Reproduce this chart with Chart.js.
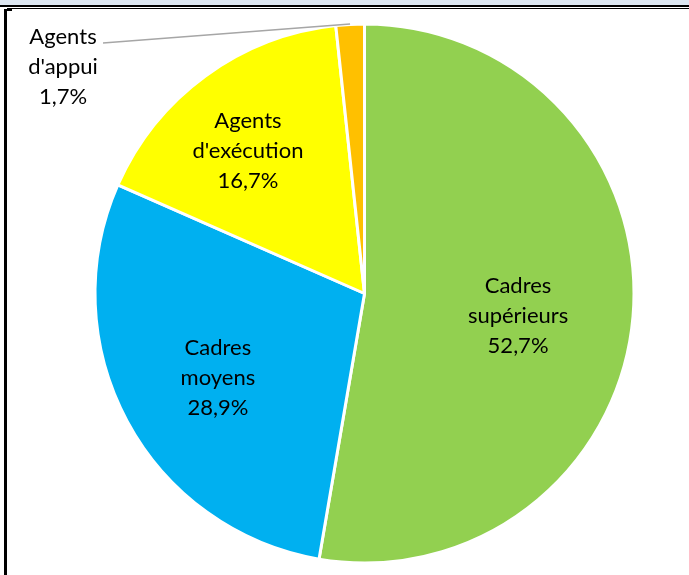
<!DOCTYPE html>
<html>
<head>
<meta charset="utf-8">
<script src="https://cdn.jsdelivr.net/npm/chart.js@4"></script>
<style>
  html, body { margin: 0; padding: 0; background: #ffffff; }
  #wrap { position: relative; width: 689px; height: 575px; overflow: hidden; background: #ffffff; }
  .bar { position: absolute; }
  canvas { position: absolute; left: 0; top: 0; }
</style>
</head>
<body>
<div id="wrap">
  <div class="bar" style="left:0;top:0;width:689px;height:5px;background:#dce6f1;"></div>
  <div class="bar" style="left:0;top:5px;width:689px;height:2px;background:#000;"></div>
  <div class="bar" style="left:7px;top:8px;width:682px;height:1px;background:#000;"></div>
  <div class="bar" style="left:4px;top:9px;width:3px;height:566px;background:#000;"></div>
  <div class="bar" style="left:7px;top:9px;width:5px;height:2px;background:#000;"></div>
  <canvas id="c" width="689" height="575"></canvas>
</div>
<script>
const categories = ["Cadres supérieurs", "Cadres moyens", "Agents d'exécution", "Agents d'appui"];
const values = [52.7, 28.9, 16.7, 1.7];
const colors = ["#92d050", "#00b0f0", "#ffff00", "#ffc000"];

// label centre offsets relative to pie centre, in units of the pie radius
const labelOffsets = [[0.573, 0.084], [-0.547, 0.315], [-0.435, -0.532], [-1.125, -0.845]];
const leaderFor = [false, false, false, true];

const fmt = v => v.toFixed(1).replace('.', ',') + '%';

const labelPlugin = {
  id: 'sliceLabels',
  afterDatasetsDraw(chart) {
    const ctx = chart.ctx;
    const meta = chart.getDatasetMeta(0);
    ctx.save();
    ctx.font = '22px Lato';
    ctx.fillStyle = '#000000';
    ctx.textAlign = 'center';
    ctx.textBaseline = 'middle';
    const lineH = 30;
    meta.data.forEach((arc, i) => {
      const p = arc.getProps(['x', 'y', 'startAngle', 'endAngle', 'outerRadius'], true);
      const r = p.outerRadius - 1.5;
      const cx = p.x + labelOffsets[i][0] * r;
      const cy = p.y + labelOffsets[i][1] * r;
      const name = categories[i];
      const sp = name.indexOf(' ');
      const lines = [name.slice(0, sp), name.slice(sp + 1), fmt(values[i])];
      lines.forEach((t, k) => ctx.fillText(t, cx, cy + (k - 1) * lineH));
      if (leaderFor[i]) {
        const mid = (p.startAngle + p.endAngle) / 2;
        const ex = p.x + Math.cos(mid) * (r + 2);
        const ey = p.y + Math.sin(mid) * (r + 2);
        ctx.beginPath();
        ctx.strokeStyle = '#a6a6a6';
        ctx.lineWidth = 1.5;
        ctx.moveTo(cx + 40, cy - 24);
        ctx.lineTo(ex, ey);
        ctx.stroke();
      }
    });
    ctx.restore();
  }
};

new Chart(document.getElementById('c'), {
  type: 'pie',
  data: {
    labels: categories,
    datasets: [{
      data: values,
      backgroundColor: colors,
      borderColor: '#ffffff',
      borderWidth: 3
    }]
  },
  options: {
    responsive: false,
    devicePixelRatio: 1,
    animation: false,
    layout: { padding: { left: 93.5, top: 22.5, right: 53.5, bottom: 10.5 } },
    plugins: {
      legend: { display: false },
      tooltip: { enabled: false }
    }
  },
  plugins: [labelPlugin]
});
</script>
</body>
</html>
